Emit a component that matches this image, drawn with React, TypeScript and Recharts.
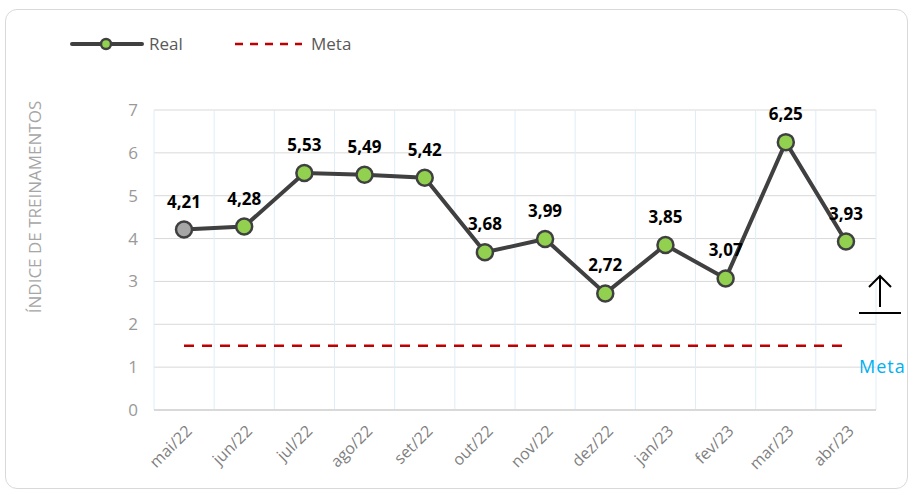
import React from "react";
import {
  CartesianGrid,
  Customized,
  LabelList,
  Line,
  LineChart,
  XAxis,
  YAxis,
} from "recharts";

const MONTHS = [
  "mai/22",
  "jun/22",
  "jul/22",
  "ago/22",
  "set/22",
  "out/22",
  "nov/22",
  "dez/22",
  "jan/23",
  "fev/23",
  "mar/23",
  "abr/23",
];

const REAL = [4.21, 4.28, 5.53, 5.49, 5.42, 3.68, 3.99, 2.72, 3.85, 3.07, 6.25, 3.93];
const META = [1.5, 1.5, 1.5, 1.5, 1.5, 1.5, 1.5, 1.5, 1.5, 1.5, 1.5, 1.5];
const Y_TICKS = [0, 1, 2, 3, 4, 5, 6, 7];

const data = MONTHS.map((month, i) => ({ month, real: REAL[i], meta: META[i] }));

const FONT = "'Open Sans', 'Liberation Sans', sans-serif";
const LINE_COLOR = "#404040";
const GREEN = "#92d050";
const GREY_DOT = "#a6a6a6";
const RED = "#c00000";

function RealDot(props: any) {
  const { cx, cy, index } = props;
  if (cx == null || cy == null) return null;
  return (
    <circle
      cx={cx}
      cy={cy}
      r={8}
      fill={index === 0 ? GREY_DOT : GREEN}
      stroke={LINE_COLOR}
      strokeWidth={2.5}
    />
  );
}

function ValueLabel(props: any) {
  const { x, y, value } = props;
  return (
    <text
      x={x}
      y={y - 22}
      textAnchor="middle"
      fontFamily={FONT}
      fontWeight={700}
      fontSize={17}
      fill="#000"
    >
      {Number(value).toFixed(2).replace(".", ",")}
    </text>
  );
}

function MonthTick(props: any) {
  const { x, y, payload } = props;
  const tx = x + 9;
  const ty = y + 14;
  return (
    <text
      x={tx}
      y={ty}
      textAnchor="end"
      transform={`rotate(-45 ${tx} ${ty})`}
      fontFamily={FONT}
      fontSize={16}
      fill="#7f7f7f"
    >
      {payload.value}
    </text>
  );
}

function Extras() {
  return (
    <g fontFamily={FONT}>
      {/* legend */}
      <line x1={72} y1={44} x2={142} y2={44} stroke={LINE_COLOR} strokeWidth={4} strokeLinecap="round" />
      <circle cx={106} cy={44} r={5} fill={GREEN} stroke={LINE_COLOR} strokeWidth={2.5} />
      <text x={149} y={50} fontSize={17} fill="#595959">Real</text>
      <line x1={235} y1={44} x2={302} y2={44} stroke={RED} strokeWidth={2.5} strokeDasharray="8 7" />
      <text x={311} y={50} fontSize={17} fill="#595959">Meta</text>
      {/* axis title */}
      <text
        x={41}
        y={207}
        textAnchor="middle"
        transform="rotate(-90 41 207)"
        fontSize={17}
        fill="#a6a6a6"
      >
        ÍNDICE DE TREINAMENTOS
      </text>
      {/* goal direction */}
      <line x1={880} y1={276} x2={880} y2={307} stroke="#000" strokeWidth={2} />
      <polyline points="869,287 880,276 891,287" fill="none" stroke="#000" strokeWidth={2} />
      <line x1={859} y1={313} x2={901} y2={313} stroke="#000" strokeWidth={2} />
      <text x={859} y={373} fontSize={18} fill="#00b0f0" letterSpacing={1}>Meta</text>
    </g>
  );
}

export default function App() {
  return (
    <div
      style={{
        position: "fixed",
        left: 0,
        top: 0,
        width: 913,
        height: 493,
        background: "#fff",
      }}
    >
      <div
        style={{
          position: "absolute",
          left: 5,
          top: 9,
          width: 903,
          height: 480,
          border: "1px solid #d9d9d9",
          borderRadius: 12,
          boxSizing: "border-box",
        }}
      />
      <LineChart
        width={913}
        height={493}
        data={data}
        margin={{ top: 110, right: 37, bottom: 53, left: 0 }}
        style={{ position: "absolute", left: 0, top: 0 }}
      >
        <CartesianGrid stroke="#d9d9d9" horizontal={true} vertical={false} />
        <CartesianGrid
          stroke="#ddeef6"
          horizontal={false}
          verticalCoordinatesGenerator={({ offset }: any) =>
            MONTHS.map((_, i) => offset.left + (i * offset.width) / MONTHS.length).concat(
              offset.left + offset.width
            )
          }
        />
        <XAxis
          dataKey="month"
          height={30}
          tickLine={false}
          axisLine={{ stroke: "#d9d9d9", strokeWidth: 2 }}
          tick={<MonthTick />}
          interval={0}
          padding={{ left: 30, right: 30 }}
        />
        <YAxis
          width={154}
          domain={[0, 7]}
          ticks={Y_TICKS}
          tickLine={false}
          axisLine={false}
          tickMargin={10}
          tick={{ fontFamily: FONT, fontSize: 17, fill: "#999" }}
        />
        <Line
          dataKey="meta"
          stroke={RED}
          strokeWidth={2.5}
          strokeDasharray="10 8"
          dot={false}
          activeDot={false}
          isAnimationActive={false}
        />
        <Line
          dataKey="real"
          stroke={LINE_COLOR}
          strokeWidth={4}
          dot={<RealDot />}
          activeDot={false}
          isAnimationActive={false}
        >
          <LabelList dataKey="real" content={<ValueLabel />} />
        </Line>
        <Customized component={Extras} />
      </LineChart>
    </div>
  );
}
